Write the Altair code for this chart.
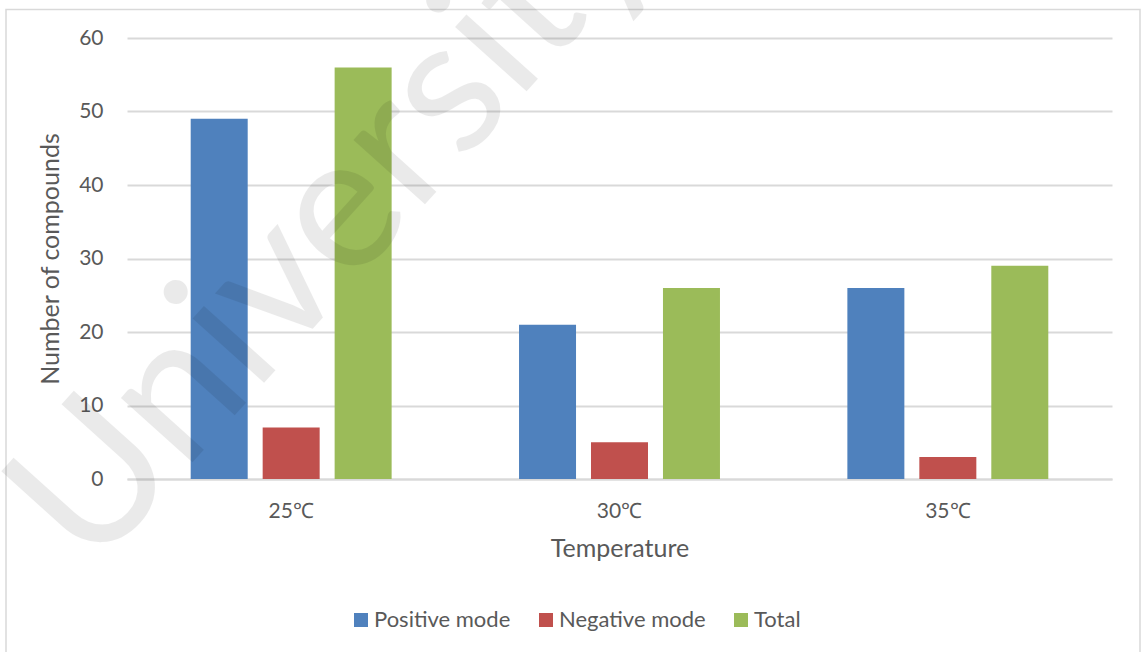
import altair as alt
import pandas as pd

# Number of compounds detected at each incubation temperature
temperatures = ["25℃", "30℃", "35℃"]
positive_mode = [49, 21, 26]
negative_mode = [7, 5, 3]
total = [56, 26, 29]

series_names = ["Positive mode", "Negative mode", "Total"]
series_colors = ["#4F81BD", "#C0504D", "#9BBB59"]

watermark_text = "University"

rows = []
for i, t in enumerate(temperatures):
    for name, values in zip(series_names, [positive_mode, negative_mode, total]):
        rows.append({"Temperature": t, "Series": name, "Count": values[i]})
df = pd.DataFrame(rows)

TEXT = "#595959"
GRID = "#D9D9D9"
FONT = "Lato"

PLOT_W, PLOT_H = 985, 441
PAD_L, PAD_T, PAD_R, PAD_B = 127, 38, 29, 173

bars = alt.Chart(df).mark_bar().encode(
    x=alt.X(
        "Temperature:N",
        sort=temperatures,
        scale=alt.Scale(paddingInner=0.388, paddingOuter=0.194),
        axis=alt.Axis(
            title="Temperature",
            labelAngle=0,
            labelFontSize=21,
            labelColor=TEXT,
            labelFont=FONT,
            labelPadding=21,
            ticks=False,
            tickSize=0,
            domain=True,
            domainColor=GRID,
            domainWidth=2,
            grid=False,
            titleFont=FONT,
            titleFontSize=25,
            titleFontWeight="normal",
            titleColor=TEXT,
            titleX=PLOT_W / 2,
            titleY=77,
            titleAlign="center",
            titleBaseline="alphabetic",
        ),
    ),
    xOffset=alt.XOffset(
        "Series:N",
        sort=series_names,
        scale=alt.Scale(paddingInner=0.208, paddingOuter=0),
    ),
    y=alt.Y(
        "Count:Q",
        scale=alt.Scale(domain=[0, 60], nice=False),
        axis=alt.Axis(
            title="Number of compounds",
            values=[0, 10, 20, 30, 40, 50, 60],
            labelFontSize=21,
            labelColor=TEXT,
            labelFont=FONT,
            labelPadding=24,
            ticks=False,
            tickSize=0,
            domain=False,
            grid=True,
            gridColor=GRID,
            gridWidth=2,
            titleFont=FONT,
            titleFontSize=25,
            titleFontWeight="normal",
            titleColor=TEXT,
            titleAngle=270,
            titleX=-69,
            titleY=PLOT_H / 2,
            titleAlign="center",
            titleBaseline="alphabetic",
        ),
    ),
    color=alt.Color(
        "Series:N",
        sort=series_names,
        scale=alt.Scale(domain=series_names, range=series_colors),
        legend=alt.Legend(
            title=None,
            orient="none",
            direction="horizontal",
            legendX=223,
            legendY=571,
            symbolType="square",
            symbolSize=196,
            symbolStrokeWidth=0,
            symbolOpacity=1,
            labelFont=FONT,
            labelFontSize=22,
            labelColor=TEXT,
            labelOffset=2,
            columnPadding=24,
            padding=0,
        ),
    ),
)

# light chart frame
frame = alt.Chart(pd.DataFrame({"k": [0]})).mark_rect(
    fill="transparent", stroke=GRID, strokeWidth=1.5
).encode(
    x=alt.value(6 - PAD_L),
    x2=alt.value(1140 - PAD_L),
    y=alt.value(9.5 - PAD_T),
    y2=alt.value(700 - PAD_T),
)

# faint diagonal watermark over the plot
watermark = alt.Chart(pd.DataFrame({"label": [watermark_text]})).mark_text(
    font=FONT,
    fontSize=190,
    angle=312,
    align="left",
    baseline="alphabetic",
    color="#000000",
    opacity=0.08,
).encode(
    text="label:N",
    x=alt.value(92 - PAD_L),
    y=alt.value(574 - PAD_T),
)

chart = alt.layer(frame, bars, watermark).properties(
    width=PLOT_W,
    height=PLOT_H,
    autosize=alt.AutoSizeParams(type="none"),
    padding={"left": PAD_L, "top": PAD_T, "right": PAD_R, "bottom": PAD_B},
    background="white",
).configure_view(stroke=None)

chart.save("out.html", embed_options={"renderer": "svg", "actions": False})
